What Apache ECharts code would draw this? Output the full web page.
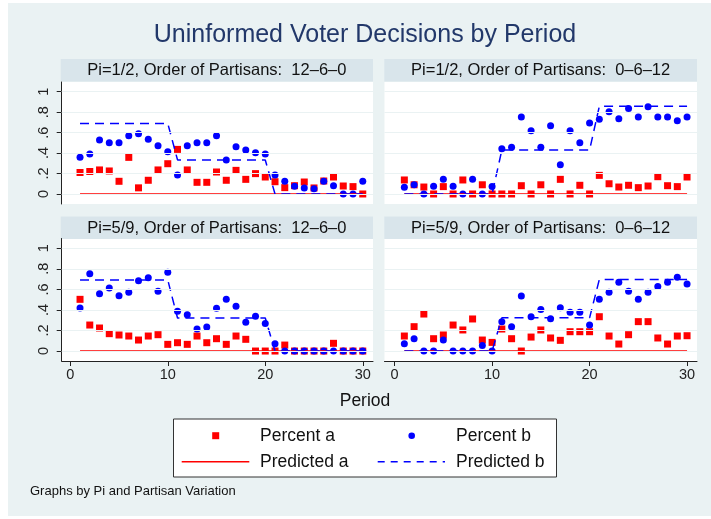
<!DOCTYPE html>
<html>
<head>
<meta charset="utf-8">
<script src="https://cdn.jsdelivr.net/npm/echarts@6/dist/echarts.min.js"></script>
<style>
  html, body { margin: 0; padding: 0; background: #fff; }
  #chart { width: 711px; height: 519px; }
</style>
</head>
<body>
<div id="chart"></div>
<script>
// periods and tick labels
var periods = [1,2,3,4,5,6,7,8,9,10,11,12,13,14,15,16,17,18,19,20,21,22,23,24,25,26,27,28,29,30];
var xTicks = [0, 10, 20, 30];
var yTicks = [0, 0.2, 0.4, 0.6, 0.8, 1];
var yTickLabels = ['0', '.2', '.4', '.6', '.8', '1'];

var panelTitles = [
    'Pi=1/2, Order of Partisans:  12\u20136\u20130',
    'Pi=1/2, Order of Partisans:  0\u20136\u201312',
    'Pi=5/9, Order of Partisans:  12\u20136\u20130',
    'Pi=5/9, Order of Partisans:  0\u20136\u201312'
];

// Pi=1/2, 12-6-0
var pctA1 = [0.21,0.22,0.235,0.225,0.124,0.358,0.06,0.134,0.235,0.296,0.436,0.235,0.114,0.114,0.215,0.134,0.231,0.143,0.199,0.166,0.12,0.062,0.081,0.117,0.059,0.127,0.166,0.078,0.072,0];
var pctB1 = [0.358,0.39,0.528,0.50,0.50,0.57,0.59,0.534,0.472,0.414,0.186,0.472,0.50,0.50,0.57,0.332,0.462,0.43,0.404,0.39,0.186,0.124,0.075,0.059,0.052,0.124,0.081,0,0,0.124];
var predA1 = [0,0,0,0,0,0,0,0,0,0,0,0,0,0,0,0,0,0,0,0,0,0,0,0,0,0,0,0,0,0];
var predB1 = [0.69,0.69,0.69,0.69,0.69,0.69,0.69,0.69,0.69,0.69,0.333,0.333,0.333,0.333,0.333,0.333,0.333,0.333,0.333,0.333,0,0,0,0,0,0,0,0,0,0];

// Pi=1/2, 0-6-12
var pctA2 = [0.137,0.09,0.068,0,0.072,0,0.137,0,0.09,0,0,0,0.081,0,0.09,0,0.143,0,0.085,0,0.182,0.10,0.068,0.085,0.062,0.078,0.169,0.081,0.072,0.166];
var pctB2 = [0.065,0.09,0,0.075,0.143,0.075,0,0.143,0,0.072,0.443,0.456,0.752,0.619,0.456,0.668,0.287,0.619,0.50,0.694,0.73,0.805,0.736,0.837,0.752,0.853,0.752,0.752,0.717,0.752];
var predA2 = [0,0,0,0,0,0,0,0,0,0,0,0,0,0,0,0,0,0,0,0,0,0,0,0,0,0,0,0,0,0];
var predB2 = [0,0,0,0,0,0,0,0,0,0,0.429,0.429,0.429,0.429,0.429,0.429,0.429,0.429,0.429,0.429,0.857,0.857,0.857,0.857,0.857,0.857,0.857,0.857,0.857,0.857];

// Pi=5/9, 12-6-0
var pctA3 = [0.503,0.253,0.224,0.169,0.156,0.146,0.107,0.146,0.159,0.065,0.081,0.065,0.146,0.081,0.12,0.065,0.146,0.114,0,0,0,0.058,0,0,0,0,0.075,0,0,0];
var pctB3 = [0.419,0.753,0.558,0.614,0.539,0.571,0.685,0.714,0.581,0.766,0.386,0.354,0.214,0.234,0.416,0.503,0.435,0.279,0.338,0.269,0.071,0,0,0,0,0,0,0,0,0];
var predA3 = [0,0,0,0,0,0,0,0,0,0,0,0,0,0,0,0,0,0,0,0,0,0,0,0,0,0,0,0,0,0];
var predB3 = [0.692,0.692,0.692,0.692,0.692,0.692,0.692,0.692,0.692,0.692,0.321,0.321,0.321,0.321,0.321,0.321,0.321,0.321,0.321,0.321,0,0,0,0,0,0,0,0,0,0];

// Pi=5/9, 0-6-12
var pctA4 = [0.146,0.237,0.36,0.12,0.156,0.253,0.205,0.312,0.107,0.084,0.214,0.12,0,0.136,0.205,0.127,0.104,0.188,0.188,0.188,0.334,0.146,0.068,0.159,0.286,0.286,0.127,0.068,0.146,0.149];
var pctB4 = [0.071,0.12,0,0,0.107,0,0,0,0.055,0,0.286,0.237,0.536,0.334,0.403,0.315,0.422,0.377,0.377,0.253,0.503,0.571,0.669,0.581,0.503,0.571,0.627,0.669,0.718,0.653];
var predA4 = [0,0,0,0,0,0,0,0,0,0,0,0,0,0,0,0,0,0,0,0,0,0,0,0,0,0,0,0,0,0];
var predB4 = [0,0,0,0,0,0,0,0,0,0,0.323,0.323,0.323,0.323,0.323,0.323,0.323,0.323,0.323,0.323,0.696,0.696,0.696,0.696,0.696,0.696,0.696,0.696,0.696,0.696];

var FONT = '"Liberation Sans", Arial, Helvetica, sans-serif';
var BG = '#eaf2f3';
var STRIP = '#d9e5eb';
var AXIS = '#222';

function pairs(ys) {
    return periods.map(function(p, i) { return [p, ys[i]]; });
}

window.onload = function() {
    var chart = echarts.init(document.getElementById('chart'), null, { renderer: 'canvas' });

    var panels = [
        { a: pctA1, b: pctB1, pa: predA1, pb: predB1, left: true,  bottom: false },
        { a: pctA2, b: pctB2, pa: predA2, pb: predB2, left: false, bottom: false },
        { a: pctA3, b: pctB3, pa: predA3, pb: predB3, left: true,  bottom: true },
        { a: pctA4, b: pctB4, pa: predA4, pb: predB4, left: false, bottom: true }
    ];

    var grids = [], xAxes = [], yAxes = [], series = [], graphics = [];

    panels.forEach(function(p, i) {
        var gl = p.left ? 61.7 : 384.5;
        var gw = p.left ? 311.3 : 312.5;
        var gt = p.bottom ? 238.5 : 82;
        var gh = p.bottom ? 122.5 : 122;
        grids.push({ left: gl, top: gt, width: gw, height: gh, show: true,
            backgroundColor: '#fff', borderWidth: 0 });

        xAxes.push({
            gridIndex: i, type: 'value',
            min: p.left ? -0.88 : -1.036,
            max: p.left ? 31.05 : 31.02,
            axisLine: { show: p.bottom, onZero: false, lineStyle: { color: AXIS, width: 1 } },
            axisTick: { show: p.bottom, customValues: xTicks, length: 5, lineStyle: { color: AXIS } },
            axisLabel: { show: p.bottom, customValues: xTicks, margin: 6,
                fontSize: 14.5, fontFamily: FONT, color: '#222' },
            splitLine: { show: false }
        });

        yAxes.push({
            gridIndex: i, type: 'value',
            min: p.bottom ? -0.097 : -0.098,
            max: 1.095,
            axisLine: { show: p.left, onZero: false, lineStyle: { color: AXIS, width: 1 } },
            axisTick: { show: p.left, customValues: yTicks, length: 5, lineStyle: { color: AXIS } },
            axisLabel: { show: p.left, customValues: yTicks, rotate: 90, margin: 10,
                fontSize: 14.5, fontFamily: FONT, color: '#222',
                formatter: function(v) {
                    var k = yTicks.indexOf(v);
                    return k >= 0 ? yTickLabels[k] : '';
                } },
            splitLine: { show: false }
        });

        // horizontal grid lines
        series.push({
            type: 'line', xAxisIndex: i, yAxisIndex: i, data: [], z: 1, silent: true,
            markLine: {
                silent: true, symbol: 'none', animation: false,
                label: { show: false },
                lineStyle: { color: BG, width: 1.2, type: 'solid' },
                data: yTicks.map(function(v) { return { yAxis: v }; })
            }
        });

        series.push({ name: 'Percent a', type: 'scatter', xAxisIndex: i, yAxisIndex: i,
            symbol: 'rect', symbolSize: 7, itemStyle: { color: '#ff0000', opacity: 1 }, data: pairs(p.a) });
        series.push({ name: 'Percent b', type: 'scatter', xAxisIndex: i, yAxisIndex: i,
            symbol: 'circle', symbolSize: 7, itemStyle: { color: '#0000ff', opacity: 1 }, data: pairs(p.b) });
        series.push({ name: 'Predicted a', type: 'line', xAxisIndex: i, yAxisIndex: i,
            symbol: 'none', lineStyle: { color: '#ff0000', width: 1.5, type: 'solid' }, data: pairs(p.pa) });
        series.push({ name: 'Predicted b', type: 'line', xAxisIndex: i, yAxisIndex: i,
            symbol: 'none', lineStyle: { color: '#0000ff', width: 1.5, type: [9, 6] }, data: pairs(p.pb) });

        // header strip
        var sl = p.left ? 60.7 : 384.3;
        var sw = p.left ? 312.3 : 312.7;
        var st = p.bottom ? 216.5 : 59;
        graphics.push({ type: 'rect', silent: true,
            shape: { x: sl, y: st, width: sw, height: 22.5 }, style: { fill: STRIP } });
        graphics.push({ type: 'text', silent: true,
            style: { text: panelTitles[i], x: sl + sw / 2, y: st + 11.5,
                align: 'center', verticalAlign: 'middle', textAlign: 'center', textVerticalAlign: 'middle',
                font: '16.5px ' + FONT, fill: '#111' } });
    });

    // white frame around the graph region
    graphics.push({ type: 'rect', silent: true, shape: { x: 0, y: 0, width: 8, height: 519 }, style: { fill: '#fff' } });
    graphics.push({ type: 'rect', silent: true, shape: { x: 0, y: 0, width: 711, height: 3 }, style: { fill: '#fff' } });
    graphics.push({ type: 'rect', silent: true, shape: { x: 0, y: 516, width: 711, height: 3 }, style: { fill: '#fff' } });

    // title, axis title, note
    graphics.push({ type: 'text', silent: true,
        style: { text: 'Uninformed Voter Decisions by Period', x: 365, y: 35,
            align: 'center', verticalAlign: 'middle', textAlign: 'center', textVerticalAlign: 'middle',
            font: '25px ' + FONT, fill: '#22386a' } });
    graphics.push({ type: 'text', silent: true,
        style: { text: 'Period', x: 365, y: 401,
            align: 'center', verticalAlign: 'middle', textAlign: 'center', textVerticalAlign: 'middle',
            font: '17.5px ' + FONT, fill: '#111' } });
    graphics.push({ type: 'text', silent: true,
        style: { text: 'Graphs by Pi and Partisan Variation', x: 30, y: 491.5,
            align: 'left', verticalAlign: 'middle', textAlign: 'left', textVerticalAlign: 'middle',
            font: '13px ' + FONT, fill: '#111' } });

    // legend box
    graphics.push({ type: 'rect', silent: true,
        shape: { x: 173.5, y: 419, width: 383, height: 58 },
        style: { fill: '#fff', stroke: '#333', lineWidth: 1 } });
    graphics.push({ type: 'rect', silent: true,
        shape: { x: 212.2, y: 432.2, width: 7, height: 7 }, style: { fill: '#ff0000' } });
    graphics.push({ type: 'circle', silent: true,
        shape: { cx: 411.7, cy: 435.7, r: 3.3 }, style: { fill: '#0000ff' } });
    graphics.push({ type: 'line', silent: true,
        shape: { x1: 181.7, y1: 461.7, x2: 249.3, y2: 461.7 },
        style: { stroke: '#ff0000', lineWidth: 1.5 } });
    graphics.push({ type: 'line', silent: true,
        shape: { x1: 377.7, y1: 461.7, x2: 445, y2: 461.7 },
        style: { stroke: '#0000ff', lineWidth: 1.5, lineDash: [7, 6] } });
    var legendTexts = [
        ['Percent a', 260, 435.7], ['Percent b', 456, 435.7],
        ['Predicted a', 260, 461.7], ['Predicted b', 456, 461.7]
    ];
    legendTexts.forEach(function(t) {
        graphics.push({ type: 'text', silent: true,
            style: { text: t[0], x: t[1], y: t[2],
                align: 'left', verticalAlign: 'middle', textAlign: 'left', textVerticalAlign: 'middle',
                font: '17.5px ' + FONT, fill: '#111' } });
    });

    chart.setOption({
        backgroundColor: BG,
        animation: false,
        grid: grids,
        xAxis: xAxes,
        yAxis: yAxes,
        series: series,
        graphic: { elements: graphics }
    });
};
</script>
</body>
</html>
